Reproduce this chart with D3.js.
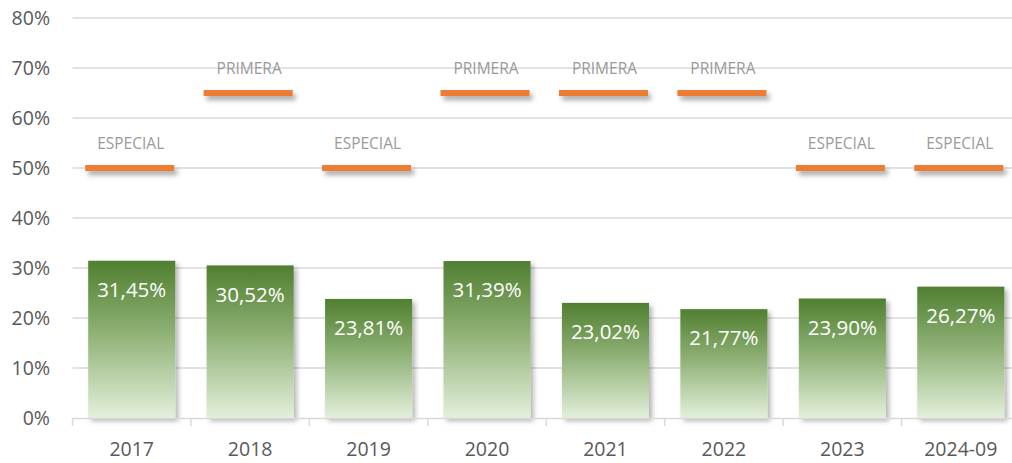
<!DOCTYPE html>
<html><head><meta charset="utf-8">
<script src="https://cdn.jsdelivr.net/npm/d3@7"></script>
<style>body{margin:0;background:#fff;} svg{display:block;}</style>
</head><body>
<svg id="c" width="1012" height="463"></svg>
<script>
const categories = ["2017","2018","2019","2020","2021","2022","2023","2024-09"];
const barValues = [31.45,30.52,23.81,31.39,23.02,21.77,23.90,26.27];
const levelValues = [50,65,50,65,65,65,50,50];
const levelLabels = ["ESPECIAL","PRIMERA","ESPECIAL","PRIMERA","PRIMERA","PRIMERA","ESPECIAL","ESPECIAL"];
const yTicks = [0,10,20,30,40,50,60,70,80];

const svg = d3.select("#c");
const defs = svg.append("defs");
const g = defs.append("linearGradient").attr("id","barGrad").attr("x1",0).attr("y1",0).attr("x2",0).attr("y2",1);
g.append("stop").attr("offset","0%").attr("stop-color","#507F30");
g.append("stop").attr("offset","45%").attr("stop-color","#8DB074");
g.append("stop").attr("offset","100%").attr("stop-color","#E3F0DB");
const f = defs.append("filter").attr("id","shadow").attr("x","-20%").attr("y","-20%").attr("width","150%").attr("height","200%");
f.append("feDropShadow").attr("dx",3).attr("dy",3).attr("stdDeviation",2.5).attr("flood-color","#000").attr("flood-opacity",0.3);
const f2 = defs.append("filter").attr("id","shadow2").attr("x","-20%").attr("y","-50%").attr("width","150%").attr("height","400%");
f2.append("feDropShadow").attr("dx",3).attr("dy",4).attr("stdDeviation",2.5).attr("flood-color","#000").attr("flood-opacity",0.35);

const x = d3.scaleBand().domain(categories).range([72.5,1020]).paddingInner(0.265).paddingOuter(0.1325);
const y = d3.scaleLinear().domain([0,80]).range([418,18]);
const font = "'Open Sans', sans-serif";

// gridlines
svg.append("g").selectAll("line").data(yTicks.filter(d=>d>0)).join("line")
  .attr("x1",72.5).attr("x2",1012).attr("y1",d=>y(d)).attr("y2",d=>y(d))
  .attr("stroke","#D9D9D9").attr("stroke-width",1.3);

// y axis
const yAxis = d3.axisLeft(y).tickValues(yTicks).tickFormat(d=>d+"%").tickSize(0).tickPadding(0);
const ya = svg.append("g").attr("transform","translate(50,0)").call(yAxis);
ya.select(".domain").remove();
ya.selectAll("text").attr("font-family",font).attr("font-size",19.5).attr("fill","#595959").attr("dy","0.35em");

// bars
svg.append("g").selectAll("rect").data(categories).join("rect")
  .attr("x",d=>x(d)).attr("width",x.bandwidth())
  .attr("y",(d,i)=>y(barValues[i])).attr("height",(d,i)=>y(0)-y(barValues[i]))
  .attr("fill","url(#barGrad)").attr("filter","url(#shadow)");

// x axis
const step = x.step();
const xAxisG = svg.append("g");
xAxisG.append("line").attr("x1",72.5).attr("x2",1012).attr("y1",418.5).attr("y2",418.5).attr("stroke","#D9D9D9").attr("stroke-width",1.5);
xAxisG.selectAll("line.tk").data(d3.range(9)).join("line").attr("class","tk")
  .attr("x1",i=>72.5+i*step).attr("x2",i=>72.5+i*step).attr("y1",418).attr("y2",426)
  .attr("stroke","#D9D9D9").attr("stroke-width",1.5);
xAxisG.selectAll("text").data(categories).join("text")
  .attr("x",d=>x(d)+x.bandwidth()/2).attr("y",449).attr("dy","0.35em")
  .attr("text-anchor","middle").attr("font-family",font).attr("font-size",19.5).attr("fill","#595959")
  .text(d=>d);

// value labels
svg.append("g").selectAll("text").data(categories).join("text")
  .attr("x",d=>x(d)+x.bandwidth()/2).attr("y",(d,i)=>y(barValues[i])+29).attr("dy","0.35em")
  .attr("text-anchor","middle").attr("font-family",font).attr("font-size",20.5).attr("fill","#fff")
  .text((d,i)=>barValues[i].toFixed(2).replace(".",",")+"%");

// level lines
svg.append("g").selectAll("rect").data(categories).join("rect")
  .attr("x",d=>x(d)-3).attr("width",x.bandwidth()+2)
  .attr("y",(d,i)=>y(levelValues[i])-3).attr("height",6)
  .attr("fill","#ED7D31").attr("filter","url(#shadow2)");

svg.append("g").selectAll("text").data(categories).join("text")
  .attr("x",d=>x(d)+x.bandwidth()/2-1).attr("y",(d,i)=>y(levelValues[i])-24).attr("dy","0.35em")
  .attr("text-anchor","middle").attr("font-family",font).attr("font-size",15.5).attr("fill","#9A9A9A")
  .text((d,i)=>levelLabels[i]);
</script>
</body></html>
